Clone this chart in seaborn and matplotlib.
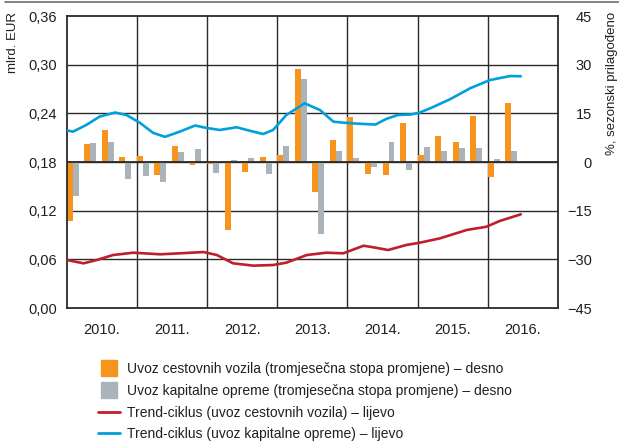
import numpy as np
import pandas as pd
import seaborn as sns
import matplotlib
matplotlib.use("Agg")
import matplotlib.pyplot as plt
from matplotlib.lines import Line2D

# ---------------- data ----------------
years = ["2010.", "2011.", "2012.", "2013.", "2014.", "2015.", "2016."]
quarters = [f"{y}Q{q}" for y in range(2010, 2017) for q in range(1, 5)][:26]

vozila_qoq = [-18.2, 5.4, 9.8, 1.4,
              1.7, -4.1, 4.8, -1.0,
              -0.6, -21.1, -3.2, 1.4,
              2.1, 28.6, -9.3, 6.7,
              13.8, -3.8, -4.1, 11.9,
              2.1, 7.9, 6.1, 14.1,
              -4.7, 18.1]
oprema_qoq = [-10.4, 5.8, 6.1, -5.3,
              -4.4, -6.3, 3.0, 3.9,
              -3.5, 0.5, 1.1, -3.8,
              4.8, 25.6, -22.2, 3.3,
              1.1, -1.6, 6.1, -2.6,
              4.5, 3.3, 4.2, 4.2,
              0.8, 3.3]

oprema_trend_t = [2010.00, 2010.09, 2010.28, 2010.47, 2010.69, 2010.85, 2011.04, 2011.23,
                  2011.40, 2011.61, 2011.83, 2011.99, 2012.18, 2012.42, 2012.66, 2012.80,
                  2012.94, 2013.13, 2013.39, 2013.61, 2013.80, 2013.94, 2014.10, 2014.25,
                  2014.40, 2014.55, 2014.72, 2014.90, 2015.03, 2015.18, 2015.46, 2015.75,
                  2016.03, 2016.32, 2016.47]
oprema_trend = [0.219, 0.2174, 0.2257, 0.236, 0.241, 0.238, 0.2285, 0.216,
                0.211, 0.2174, 0.225, 0.222, 0.2195, 0.2228, 0.2174, 0.2145,
                0.2195, 0.238, 0.2524, 0.244, 0.2297, 0.2285, 0.2275, 0.2268,
                0.2262, 0.2330, 0.2380, 0.2385, 0.2410, 0.2462, 0.2573, 0.271,
                0.281, 0.286, 0.2857]

vozila_trend_t = [2010.00, 2010.24, 2010.43, 2010.66, 2010.95, 2011.33, 2011.61, 2011.95,
                  2012.14, 2012.37, 2012.66, 2012.94, 2013.13, 2013.42, 2013.70, 2013.94,
                  2014.23, 2014.37, 2014.58, 2014.84, 2015.03, 2015.32, 2015.70, 2015.98,
                  2016.17, 2016.47]
vozila_trend = [0.0592, 0.0551, 0.0592, 0.0653, 0.0682, 0.0662, 0.0674, 0.069,
                0.0653, 0.0551, 0.0522, 0.053, 0.0559, 0.0653, 0.0682, 0.0674,
                0.0768, 0.0748, 0.0715, 0.0777, 0.0805, 0.0859, 0.0962, 0.1002,
                0.1073, 0.1155]

left_ticks = [0.0, 0.06, 0.12, 0.18, 0.24, 0.30, 0.36]
right_ticks = [-45, -30, -15, 0, 15, 30, 45]

lab_vozila = "Uvoz cestovnih vozila (tromjesečna stopa promjene) – desno"
lab_oprema = "Uvoz kapitalne opreme (tromjesečna stopa promjene) – desno"
lab_tr_vozila = "Trend-ciklus (uvoz cestovnih vozila) – lijevo"
lab_tr_oprema = "Trend-ciklus (uvoz kapitalne opreme) – lijevo"

C_OR = "#F7941D"
C_GR = "#A9B3B9"
C_RED = "#BE1E2D"
C_BLUE = "#00A0DD"
C_GRID = "#2a2a2a"

# ---------------- style ----------------
sns.set_style("white")
plt.rcParams["font.family"] = ["Liberation Sans", "DejaVu Sans"]
plt.rcParams["text.color"] = "#231f20"
plt.rcParams["xtick.color"] = "#231f20"
plt.rcParams["ytick.color"] = "#231f20"

fig = plt.figure(figsize=(6.19, 4.43), dpi=100)
W, H = 619, 443
ax = fig.add_axes([66.7 / W, 1 - 308 / H, (558 - 66.7) / W, (308 - 16) / H])

# bars (right scale) on primary axes
n = len(quarters)
bars = pd.DataFrame({
    "q": list(range(n)) * 2,
    "val": vozila_qoq + oprema_qoq,
    "serija": [lab_vozila] * n + [lab_oprema] * n,
})
sns.barplot(data=bars, x="q", y="val", hue="serija", hue_order=[lab_vozila, lab_oprema],
            palette=[C_OR, C_GR], width=0.68, gap=0, dodge=True, legend=False,
            errorbar=None, saturation=1, ax=ax, zorder=2)
for p in ax.patches:
    p.set_edgecolor("none")

off = 0.34
ax.set_xlim(-off, 28 - off)
ax.set_ylim(-45, 45)
ax.set_xticks([4 * k + 2 - off for k in range(len(years))])
ax.set_xticklabels(years)
ax.set_xlabel("")
ax.set_ylabel("")

# grid
for t in right_ticks[1:-1]:
    ax.axhline(t, color=C_GRID, lw=1.0, zorder=1)
for k in range(1, 7):
    ax.axvline(4 * k - off, color=C_GRID, lw=1.0, zorder=1)
ax.axhline(0, color=C_GRID, lw=1.3, zorder=3)
for s in ax.spines.values():
    s.set_color(C_GRID)
    s.set_linewidth(1.3)

# trend lines (left scale) on twin axes
ax2 = ax.twinx()
ax2.yaxis.tick_left()
ax2.set_ylim(0, 0.36)
ax2.set_yticks(left_ticks)
ax2.set_yticklabels([f"{t:.2f}".replace(".", ",") for t in left_ticks])
ax2.tick_params(axis="y", length=0, labelsize=10.5, pad=7)

# right axis ticks for bars (after twinx, which resets the side)
ax.yaxis.tick_right()
ax.set_yticks(right_ticks)
ax.set_yticklabels([str(t).replace("-", "\u2212") for t in right_ticks])
ax.tick_params(axis="both", length=0, labelsize=10.5)
ax.tick_params(axis="x", pad=11)
ax.tick_params(axis="y", pad=24.5)
for lab in ax.get_yticklabels():
    lab.set_horizontalalignment("right")

def to_x(t):
    return [(v - 2010) * 4 - off for v in t]

lines = pd.DataFrame({
    "x": to_x(vozila_trend_t) + to_x(oprema_trend_t),
    "y": vozila_trend + oprema_trend,
    "serija": [lab_tr_vozila] * len(vozila_trend) + [lab_tr_oprema] * len(oprema_trend),
})
sns.lineplot(data=lines, x="x", y="y", hue="serija", hue_order=[lab_tr_vozila, lab_tr_oprema],
             palette=[C_RED, C_BLUE], linewidth=1.9, legend=False, sort=True, ax=ax2)
ax2.set_xlim(-off, 28 - off)
ax2.set_xlabel("")
ax2.set_ylabel("")
for s in ax2.spines.values():
    s.set_visible(False)

# axis titles
fig.text(13 / W, 1 - 12 / H, "mlrd. EUR", rotation=90, ha="center", va="top", fontsize=9.5)
fig.text(612 / W, 1 - 12 / H, "%, sezonski prilagođeno", rotation=90, ha="center", va="top",
         fontsize=9.5)

# top rule
fig.add_artist(Line2D([5 / W, 1], [1 - 2 / H, 1 - 2 / H], color="#6d6d6d", lw=1.2))

# legend
handles = [
    Line2D([], [], marker="s", color=C_OR, markersize=11.5, linestyle="none"),
    Line2D([], [], marker="s", color=C_GR, markersize=11.5, linestyle="none"),
    Line2D([], [], color=C_RED, lw=2.0),
    Line2D([], [], color=C_BLUE, lw=2.0),
]
fig.legend(handles, [lab_vozila, lab_oprema, lab_tr_vozila, lab_tr_oprema],
           loc="upper left", bbox_to_anchor=(98 / W, 1 - 362 / H), frameon=False,
           fontsize=10, handlelength=1.6, handletextpad=0.5, labelspacing=0.56,
           borderpad=0, borderaxespad=0)

fig.savefig("out.png", dpi=100)
